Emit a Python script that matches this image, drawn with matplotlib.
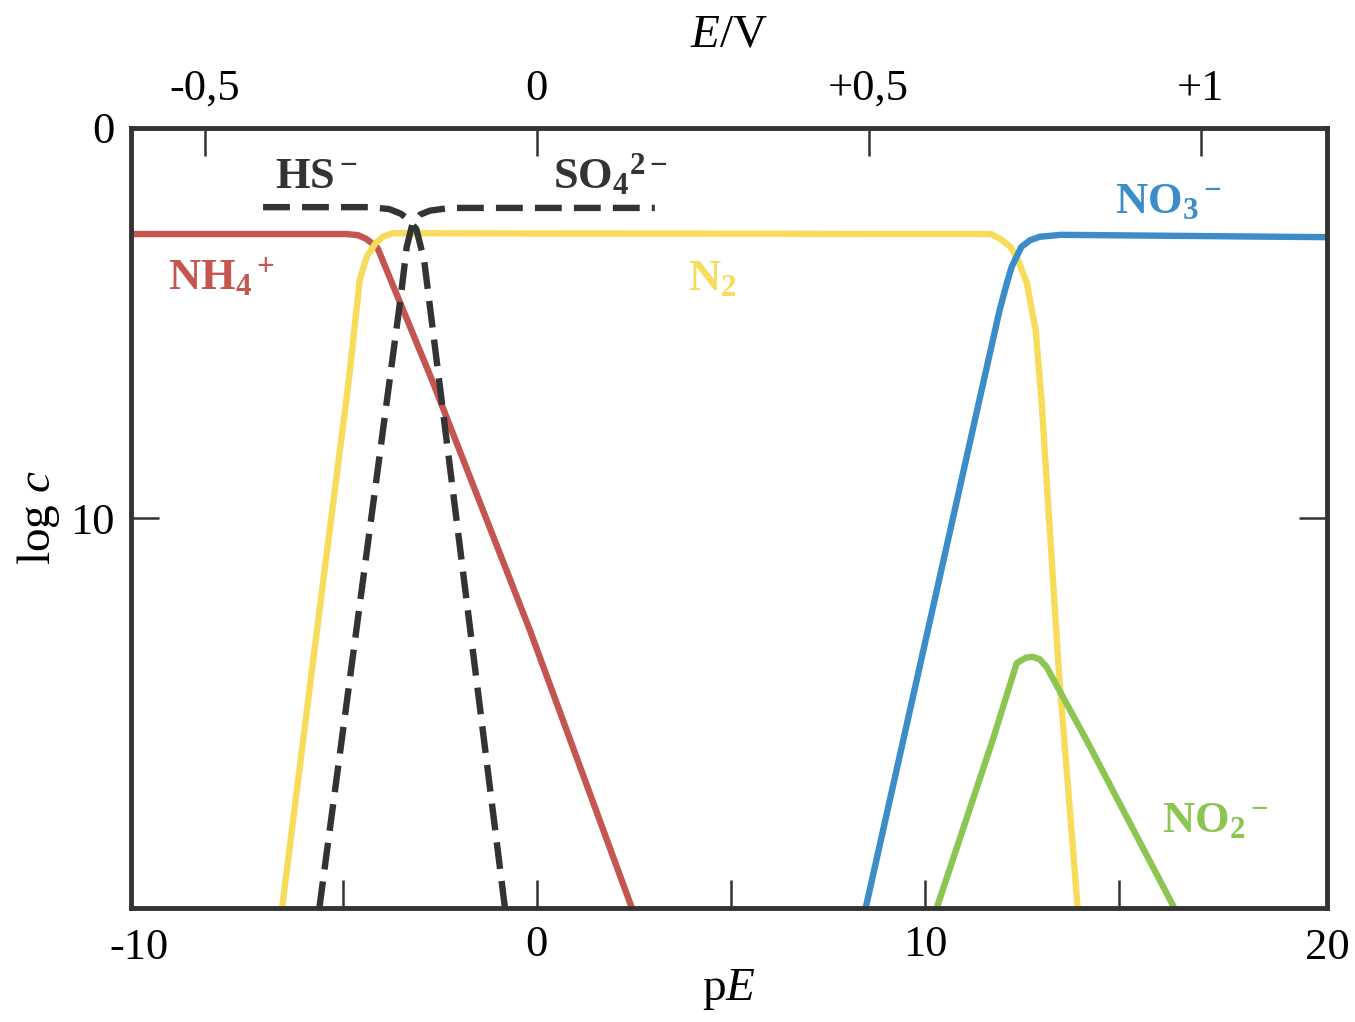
import matplotlib
matplotlib.use("Agg")
import matplotlib.pyplot as plt

plt.rcParams['font.family'] = ['Liberation Serif', 'DejaVu Serif']
plt.rcParams['mathtext.fontset'] = 'custom'
plt.rcParams['mathtext.rm'] = 'Liberation Serif'
plt.rcParams['mathtext.it'] = 'Liberation Serif:italic'
plt.rcParams['mathtext.bf'] = 'Liberation Serif:bold'

# pE / log c readings (log c axis runs 0 at top to 20 at bottom)
nh4_pe = [-10.45, -4.9, -4.6, -4.4, -4.25, -4.1, -2.7, -0.18, 2.45]
nh4_c = [2.72, 2.72, 2.75, 2.84, 2.95, 3.08, 6.46, 12.87, 20.0]

n2_pe = [-6.56, -5.66, -4.84, -4.56, -4.38, -4.15, -3.95, -3.7,
         11.7, 11.95, 12.2, 12.4, 12.62, 12.85, 13.0, 13.45, 13.93]
n2_c = [20.0, 12.87, 6.46, 3.9, 3.3, 2.95, 2.78, 2.7,
        2.72, 2.85, 3.05, 3.4, 3.97, 5.2, 7.0, 14.0, 20.0]

no3_pe = [8.47, 11.40, 11.92, 12.1, 12.23, 12.48, 12.7, 12.95, 13.5, 20.35]
no3_c = [20.0, 6.97, 4.67, 4.0, 3.56, 3.05, 2.88, 2.79, 2.74, 2.8]

no2_pe = [10.30, 11.74, 12.36, 12.6, 12.77, 12.95, 13.13, 14.16, 16.42]
no2_c = [20.0, 15.7, 13.72, 13.58, 13.56, 13.62, 13.82, 15.7, 20.0]

hs_pe = [-7.05, -4.3, -3.8, -3.5, -3.3, -3.1, -2.9, -0.82]
hs_c = [2.03, 2.03, 2.08, 2.2, 2.35, 2.6, 3.4, 20.0]

so4_pe = [-5.6, -3.5, -3.35, -3.2, -3.0, -2.75, -2.24, 3.04]
so4_c = [20.0, 4.3, 3.05, 2.45, 2.22, 2.12, 2.05, 2.05]

e_ticks = [-0.5, 0, 0.5, 1]
e_labels = ['-0,5', '0', '+0,5', '+1']
volt_per_pe = 0.0585

RED = '#c4554f'
YELLOW = '#f7dc5c'
BLUE = '#3b8cc8'
GREEN = '#8dc552'
DARK = '#333333'

fig = plt.figure(figsize=(13.55, 10.22), dpi=100)
ax = fig.add_axes([0.0967, 0.1115, 0.8826, 0.7633])

lw = 4.6
ax.plot(nh4_pe, nh4_c, color=RED, lw=lw, solid_joinstyle='round')
ax.plot(n2_pe, n2_c, color=YELLOW, lw=lw, solid_joinstyle='round')
ax.plot(no3_pe, no3_c, color=BLUE, lw=lw, solid_joinstyle='round')
ax.plot(no2_pe, no2_c, color=GREEN, lw=lw, solid_joinstyle='round')
ax.plot(hs_pe, hs_c, color=DARK, lw=4.6, dashes=(4.2, 1.9))
ax.plot(so4_pe, so4_c, color=DARK, lw=4.6, dashes=(4.2, 1.9))

ax.set_xlim(-10.45, 20.35)
ax.set_ylim(20, 0)

# species labels
lab_kw = dict(fontsize=32, va='baseline', ha='left')
ax.text(-6.74, 1.54, r'$\mathbf{HS{}^-}$', color=DARK, **lab_kw)
ax.text(0.41, 1.54, r'$\mathbf{SO_4{}^{2-}}$', color=DARK, **lab_kw)
ax.text(-9.5, 4.15, r'$\mathbf{NH_4{}^+}$', color=RED, **lab_kw)
ax.text(3.89, 4.15, r'$\mathbf{N_2}$', color=YELLOW, **lab_kw)
ax.text(14.88, 2.18, r'$\mathbf{NO_3{}^-}$', color=BLUE, **lab_kw)
ax.text(16.11, 18.05, r'$\mathbf{NO_2{}^-}$', color=GREEN, **lab_kw)

# axes frame and ticks
for sp in ax.spines.values():
    sp.set_linewidth(3.5)
    sp.set_color(DARK)

ax.set_xticks([-5, 0, 5, 10, 15], ['', '0', '', '10', ''])
ax.set_yticks([0, 10], ['0', '10'])
ax.tick_params(axis='both', direction='in', length=20, width=1.8,
               color=DARK, labelsize=32)
ax.tick_params(axis='x', pad=12)
ax.tick_params(axis='y', pad=12, right=True)
ax.text(0.007, -0.025, '-10', transform=ax.transAxes, fontsize=32,
        ha='center', va='top')
ax.text(1.0, -0.025, '20', transform=ax.transAxes, fontsize=32,
        ha='center', va='top')

top = ax.secondary_xaxis('top', functions=(lambda p: p * volt_per_pe,
                                           lambda e: e / volt_per_pe))
top.set_xticks(e_ticks, e_labels)
top.tick_params(direction='in', length=20, width=1.8, color=DARK,
                labelsize=32, pad=14)
top.spines['top'].set_visible(False)

ax.set_xlabel(r'p$E$', fontsize=34, labelpad=2)
top.set_xlabel(r'$E$/V', fontsize=34, labelpad=16)
ax.set_ylabel(r'log $c$', fontsize=34, labelpad=6)

fig.savefig('out.png', dpi=100, facecolor='white')
